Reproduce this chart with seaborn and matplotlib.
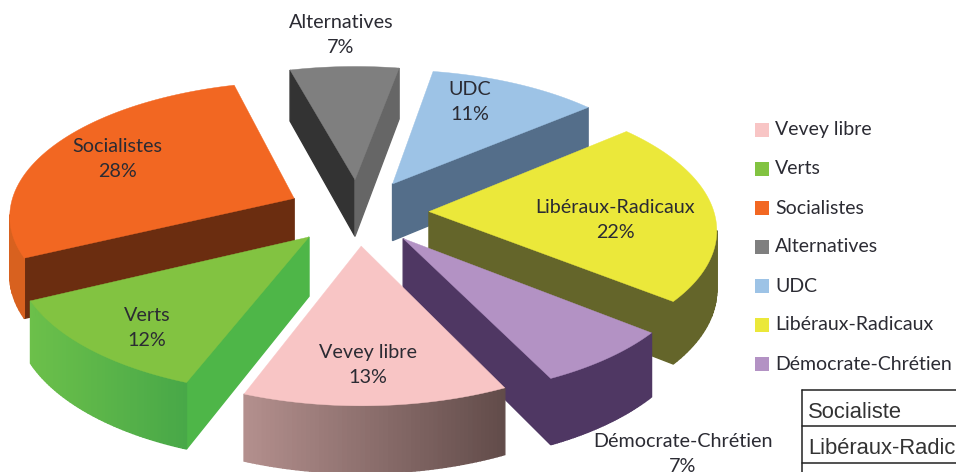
import numpy as np
import pandas as pd
import seaborn as sns
import matplotlib.pyplot as plt
from matplotlib.colors import to_rgb

# Data
parties = ['Vevey libre', 'Verts', 'Socialistes', 'Alternatives', 'UDC',
           'Libéraux-Radicaux', 'Démocrate-Chrétien']
shares = [13, 12, 28, 7, 11, 22, 7]
table_rows = ['Socialiste', 'Libéraux-Radicaux']

# Colours: top face, start wall, end wall, arc wall left / right
top_colors = ['#f8c5c5', '#82c341', '#f26722', '#7f7f7f', '#9dc3e6', '#ebe83a', '#b392c4']
start_walls = ['#8a6e6c', '#4eb648', '#6b2d10', '#333333', '#546e8a', '#64652a', '#4f3763']
end_walls = ['#8a6e6c', '#4eb648', '#6b2d10', '#666666', '#546e8a', '#64652a', '#4f3763']
arc_left = ['#b4908e', '#6cc04a', '#d8611f', '#555555', '#546e8a', '#64652a', '#4f3763']
arc_right = ['#624c4a', '#48a848', '#d8611f', '#555555', '#546e8a', '#64652a', '#4f3763']

# Pie geometry, in figure pixels
CX, CY = 358, 212
RADIUS = 285
EXPLODE = 71
SQUASH = 0.467
DEPTH = 58
PERSP = 2500
START_ANGLE = 154.1

# Label centres, in figure pixels
label_pos = [(368, 365), (147, 328), (117, 159), (341, 35), (470, 102), (615, 220), (683, 454)]

sns.set_theme(style='white')
plt.rcParams['font.family'] = ['Lato', 'DejaVu Sans']

fig = plt.figure(figsize=(9.56, 4.72), dpi=100)
ax = fig.add_axes([0, 0, 1, 1])
ax.set_xlim(0, 956)
ax.set_ylim(472, 0)
ax.axis('off')


def project(u, v, drop=0.0):
    s = 1 / (1 + v / PERSP)
    return CX + u * s, CY - v * SQUASH * s + drop * s


def wall(p, q, color, z):
    # Extrude one top edge downwards
    x = [p[0], q[0], q[2], p[2]]
    y = [p[1], q[1], q[3], p[3]]
    ax.fill(x, y, color=color, lw=1.0, zorder=z)


def point(u, v):
    return (*project(u, v), *project(u, v, DEPTH))


def draw_slice(i, a0, a1):
    mid = np.radians((a0 + a1) / 2)
    ou, ov = EXPLODE * np.sin(mid), EXPLODE * np.cos(mid)
    angles = np.radians(np.linspace(a0, a1, 60))
    apex = point(ou, ov)
    rim = [point(ou + RADIUS * np.sin(t), ov + RADIUS * np.cos(t)) for t in angles]
    z = 10 - ov / 100
    xs = [p[0] for p in rim]
    left, right = min(xs), max(xs)

    if rim[0][0] < apex[0]:
        wall(apex, rim[0], start_walls[i], z)
    for p, q in zip(rim[:-1], rim[1:]):
        if q[0] < p[0]:
            f = (p[0] - left) / max(right - left, 1)
            c = (1 - f) * np.array(to_rgb(arc_left[i])) + f * np.array(to_rgb(arc_right[i]))
            wall(p, q, tuple(c), z)
    if apex[0] < rim[-1][0]:
        wall(rim[-1], apex, end_walls[i], z)

    ax.fill([apex[0]] + xs, [apex[1]] + [p[1] for p in rim],
            color=top_colors[i], lw=0.3, zorder=z + 0.01)


edges = START_ANGLE + np.cumsum([0] + shares) * 3.6
for i in range(len(parties)):
    draw_slice(i, edges[i], edges[i + 1])

for (x, y), name, val in zip(label_pos, parties, shares):
    ax.text(x, y, f'{name}\n{val}%', ha='center', va='center', fontsize=14.2,
            color='#2b2b33', linespacing=1.55, zorder=50)

# Legend
legend = pd.DataFrame({'party': parties, 'x': 762.0, 'y': 130 + 39.0 * np.arange(len(parties))})
sns.scatterplot(data=legend, x='x', y='y', hue='party', palette=top_colors, marker='s',
                s=105, linewidth=0, legend=False, ax=ax, zorder=40)
ax.set_xlim(0, 956)
ax.set_ylim(472, 0)
ax.axis('off')
for y, name in zip(legend['y'], parties):
    ax.text(775, y, name, ha='left', va='center', fontsize=14, color='#2b2b33', zorder=50)

# Table piece in the corner
ax.plot([802, 802], [390, 472], color='#222222', lw=1.1, zorder=60)
for y in [390, 426, 463]:
    ax.plot([802, 956], [y, y], color='#222222', lw=1.1, zorder=60)
for y, row in zip([413, 449], table_rows):
    ax.text(808, y, row, ha='left', va='center', fontsize=15.8, color='#333333',
            family='Liberation Sans', zorder=60)

fig.savefig('out.png', dpi=100)
